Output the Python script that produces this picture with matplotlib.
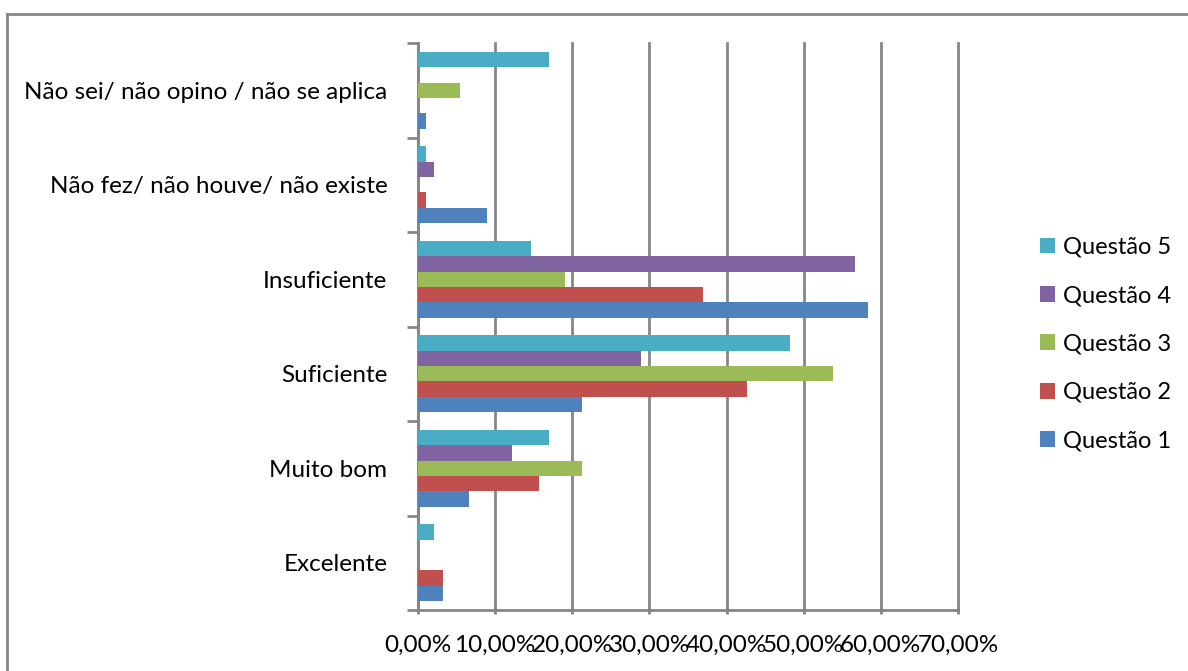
import numpy as np
import matplotlib.pyplot as plt
from matplotlib.lines import Line2D

categories = ["Excelente", "Muito bom", "Suficiente", "Insuficiente",
              "Não fez/ não houve/ não existe", "Não sei/ não opino / não se aplica"]
series = ["Questão 1", "Questão 2", "Questão 3", "Questão 4", "Questão 5"]
colors = ["#4F81BD", "#C0504D", "#9BBB59", "#8064A2", "#4BACC6"]

q1 = [3.3, 6.6, 21.2, 58.3, 9.0, 1.0]
q2 = [3.3, 15.7, 42.6, 37.0, 1.0, 0.0]
q3 = [0.0, 21.3, 53.8, 19.0, 0.0, 5.5]
q4 = [0.0, 12.2, 28.9, 56.7, 2.1, 0.0]
q5 = [2.1, 17.0, 48.2, 14.6, 1.0, 17.0]
values = [q1, q2, q3, q4, q5]

plt.rcParams['font.family'] = ['Lato', 'DejaVu Sans']

fig = plt.figure(figsize=(11.88, 6.71), dpi=100)
ax = fig.add_axes([418/1188, 1 - 610/671, 540/1188, 567/671])

y = np.arange(len(categories))
h = 0.164
for i, (name, vals) in enumerate(zip(series, values)):
    ax.barh(y + (i - 2) * h, vals, height=h, color=colors[i], label=name,
            linewidth=0, zorder=3)

ax.set_xlim(0, 70)
ax.set_ylim(-0.5, len(categories) - 0.5)
ax.set_xticks(np.arange(0, 71, 10))
ax.set_xticklabels(["%d,00%%" % v for v in range(0, 71, 10)])
ax.set_yticks(y)
ax.set_yticklabels(categories)
ax.set_yticks(np.arange(-0.5, len(categories), 1), minor=True)

ax.grid(axis='x', color='#868686', linewidth=2, zorder=0)
for gl in ax.get_xgridlines():
    gl.set_clip_on(False)
for s in ['top', 'right']:
    ax.spines[s].set_visible(False)
for s in ['left', 'bottom']:
    ax.spines[s].set_color('#868686')
    ax.spines[s].set_linewidth(2)

ax.tick_params(axis='y', which='major', length=0, pad=22, labelsize=17.5)
ax.tick_params(axis='y', which='minor', length=8, width=2, color='#868686')
ax.tick_params(axis='x', length=6, width=2, color='#868686', direction='inout',
               pad=15, labelsize=17.5)

handles, labels = ax.get_legend_handles_labels()
ax.legend(handles[::-1], labels[::-1], loc='center left', bbox_to_anchor=(1.112, 0.469),
          frameon=False, fontsize=17, handlelength=0.65, handleheight=0.65,
          labelspacing=1.16, handletextpad=0.35)

fig.add_artist(Line2D([7/1188, 1], [1 - 14/671, 1 - 14/671], color='#868686', linewidth=2))
fig.add_artist(Line2D([7/1188, 7/1188], [0, 1 - 14/671], color='#868686', linewidth=2))

fig.savefig("out.png", dpi=100)
